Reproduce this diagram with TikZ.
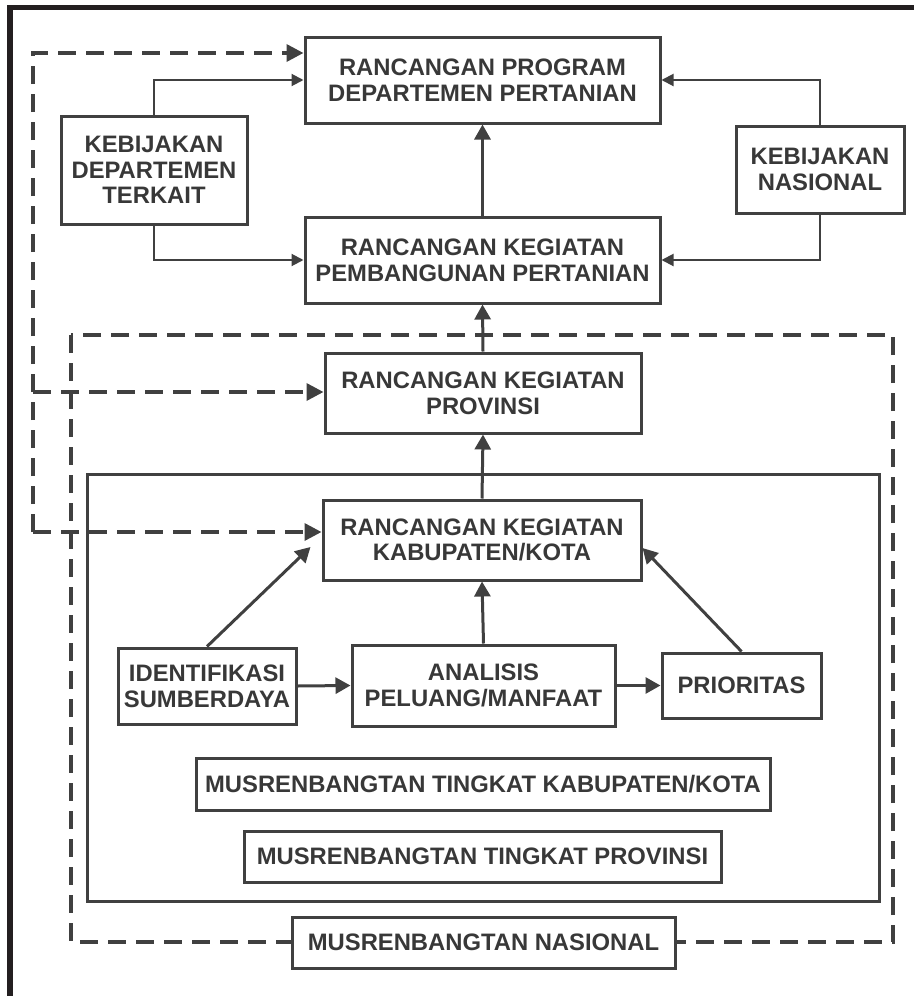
\documentclass[tikz,border=0pt]{standalone}
\usepackage{fontspec}
\setmainfont{Liberation Sans}
\usetikzlibrary{arrows.meta, positioning, calc}
\definecolor{ink}{HTML}{404040}
\definecolor{txt}{HTML}{383838}
\definecolor{framecol}{HTML}{231F20}
\tikzset{
  box/.style={
    rectangle, draw=ink, line width=3pt, fill=white, inner sep=0pt,
    align=center, text=txt, font=\bfseries\fontsize{23.8}{25.8}\selectfont
  },
  flow/.style={-{Triangle[length=15pt, width=16pt]}, draw=ink, line width=3pt},
  thinflow/.style={-{Triangle[length=12pt, width=12pt]}, draw=ink, line width=2pt},
  dashflow/.style={-{Triangle[length=17pt, width=17pt]}, draw=ink, line width=3.5pt,
    dash pattern=on 18pt off 10pt},
  dashframe/.style={draw=ink, line width=3.5pt, dash pattern=on 18pt off 10pt}
}

\begin{document}
\begin{tikzpicture}[x=1pt, y=-1pt]
    \useasboundingbox (0,0) rectangle (914,996);
    % frame of the page
    \draw[framecol, line width=5.5pt] (10,996) -- (10,7.5) -- (914,7.5);
    % groups
    \draw[dashframe] (71,335) rectangle (893,942);
    \draw[ink, line width=3pt] (87,474) rectangle (879,901);

    \node[box, minimum width=355pt, minimum height=86pt] (prog) at (482.5,80)
        {RANCANGAN PROGRAM\\DEPARTEMEN PERTANIAN};
    \node[box, minimum width=186pt, minimum height=108pt] (kdt) at (154,170)
        {KEBIJAKAN\\DEPARTEMEN\\TERKAIT};
    \node[box, minimum width=168pt, minimum height=87pt] (kn) at (820,169.5)
        {KEBIJAKAN\\NASIONAL};
    \node[box, minimum width=355pt, minimum height=86pt] (keg) at (482.5,260)
        {RANCANGAN KEGIATAN\\PEMBANGUNAN PERTANIAN};
    \node[box, minimum width=316pt, minimum height=80pt] (prov) at (483,393)
        {RANCANGAN KEGIATAN\\PROVINSI};
    \node[box, minimum width=318pt, minimum height=80pt] (kab) at (482,540)
        {RANCANGAN KEGIATAN\\KABUPATEN/KOTA};
    \node[box, minimum width=178pt, minimum height=76pt] (ident) at (207,686)
        {IDENTIFIKASI\\SUMBERDAYA};
    \node[box, minimum width=263pt, minimum height=81pt] (anal) at (483.5,685.5)
        {ANALISIS\\PELUANG/MANFAAT};
    \node[box, minimum width=159pt, minimum height=65pt] (prio) at (741.5,685.5)
        {PRIORITAS};
    \node[box, minimum width=574pt, minimum height=52pt] (mkab) at (483,784)
        {MUSRENBANGTAN TINGKAT KABUPATEN/KOTA};
    \node[box, minimum width=477pt, minimum height=51pt] (mprov) at (482.5,856.5)
        {MUSRENBANGTAN TINGKAT PROVINSI};
    \node[box, minimum width=383pt, minimum height=51pt] (mnas) at (483.5,942.5)
        {MUSRENBANGTAN NASIONAL};

    % policy inputs
    \draw[thinflow] (kdt.north) |- (prog.west);
    \draw[thinflow] (kdt.south) |- (keg.west);
    \draw[thinflow] (kn.north) |- (prog.east);
    \draw[thinflow] (kn.south) |- (keg.east);

    % upward chain
    \draw[flow] (keg.north) -- (prog.south);
    \draw[flow] (prov.north) -- (keg.south);
    \draw[flow] (kab.north) -- (prov.south);
    \draw[flow] (anal.north) -- (kab.south);
    \draw[flow] (ident.north) -- ([xshift=-11pt, yshift=-7pt]kab.west);
    \draw[flow] (prio.north) -- ([yshift=-8pt]kab.east);
    \draw[flow] (ident.east) -- (anal.west);
    \draw[flow] (anal.east) -- (prio.west);

    % feedback on the left
    \coordinate (lt) at (33,53);
    \coordinate (lm) at (33,392);
    \coordinate (lb) at (33,532);
    \draw[dashflow] (lb) -- (lt) -- (lt -| prog.west);
    \draw[dashflow] (lm) -- (lm -| prov.west);
    \draw[dashflow] (lb) -- (lb -| kab.west);
\end{tikzpicture}
\end{document}
